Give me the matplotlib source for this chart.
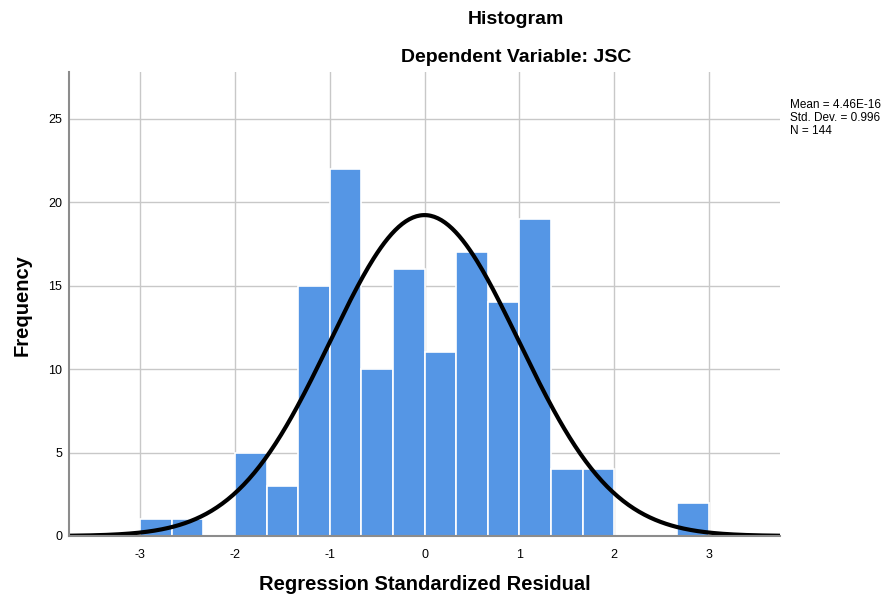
import numpy as np
import matplotlib
matplotlib.use("Agg")
import matplotlib.pyplot as plt

plt.rcParams['font.family'] = ['Liberation Sans', 'DejaVu Sans']

bin_edges = [-3 + i / 3 for i in range(19)]
counts = [1, 1, 0, 5, 3, 15, 22, 10, 16, 11, 17, 14, 19, 4, 4, 0, 0, 2]
mean = 4.46e-16
std = 0.996
n = 144
xticks = [-3, -2, -1, 0, 1, 2, 3]
yticks = [0, 5, 10, 15, 20, 25]

fig = plt.figure(figsize=(8.94, 5.96), dpi=100)
ax_h = (536 - 72) / 596
ax_w = (780 - 69) / 894
ax = fig.add_axes([69/894, 60/596, ax_w, ax_h])

lefts = bin_edges[:-1]
width = bin_edges[1] - bin_edges[0]
ax.bar(lefts, counts, width=width, align='edge', color='#5596E5',
       edgecolor='white', linewidth=1.2, zorder=3)

xs = np.linspace(-3.75, 3.75, 400)
ys = n * width / (std * np.sqrt(2 * np.pi)) * np.exp(-0.5 * ((xs - mean) / std) ** 2)
ax.plot(xs, ys, color='black', linewidth=3, zorder=4)

ax.set_xlim(-3.75, 3.75)
ax.set_ylim(0, 27.8)
ax.set_xticks(xticks)
ax.set_xticklabels([str(t) for t in xticks])
ax.set_yticks(yticks)
ax.grid(True, color='#C8C8C8', linewidth=1, zorder=0)
ax.set_axisbelow(True)
ax.tick_params(length=0, labelsize=9)
ax.tick_params(axis='x', pad=9)
ax.tick_params(axis='y', pad=5)
for s in ['top', 'right']:
    ax.spines[s].set_visible(False)
for s in ['left', 'bottom']:
    ax.spines[s].set_color('#8C8C8C')
    ax.spines[s].set_linewidth(1.5)
    ax.spines[s].set_zorder(5)

ax.set_xlabel('Regression Standardized Residual', fontsize=14.5, fontweight='bold')
ax.set_ylabel('Frequency', fontsize=14.5, fontweight='bold')
ax.xaxis.label.set_va('center')
ax.yaxis.label.set_va('center')
ax.xaxis.set_label_coords((425 - 69) / (780 - 69), (536 - 585) / (536 - 72))
ax.yaxis.set_label_coords((22 - 69) / (780 - 69), (536 - 305) / (536 - 72))

fig.text(516/894, 1 - 19/596, 'Histogram', ha='center', va='center', fontsize=14, fontweight='bold')
fig.text(516/894, 1 - 57/596, 'Dependent Variable: JSC', ha='center', va='center', fontsize=14, fontweight='bold')
fig.text(790/894, 1 - 99/596, f'Mean = 4.46E-16\nStd. Dev. = {std}\nN = {n}',
         ha='left', va='top', fontsize=8.5, linespacing=1.1)

fig.savefig('out.png', dpi=100)
